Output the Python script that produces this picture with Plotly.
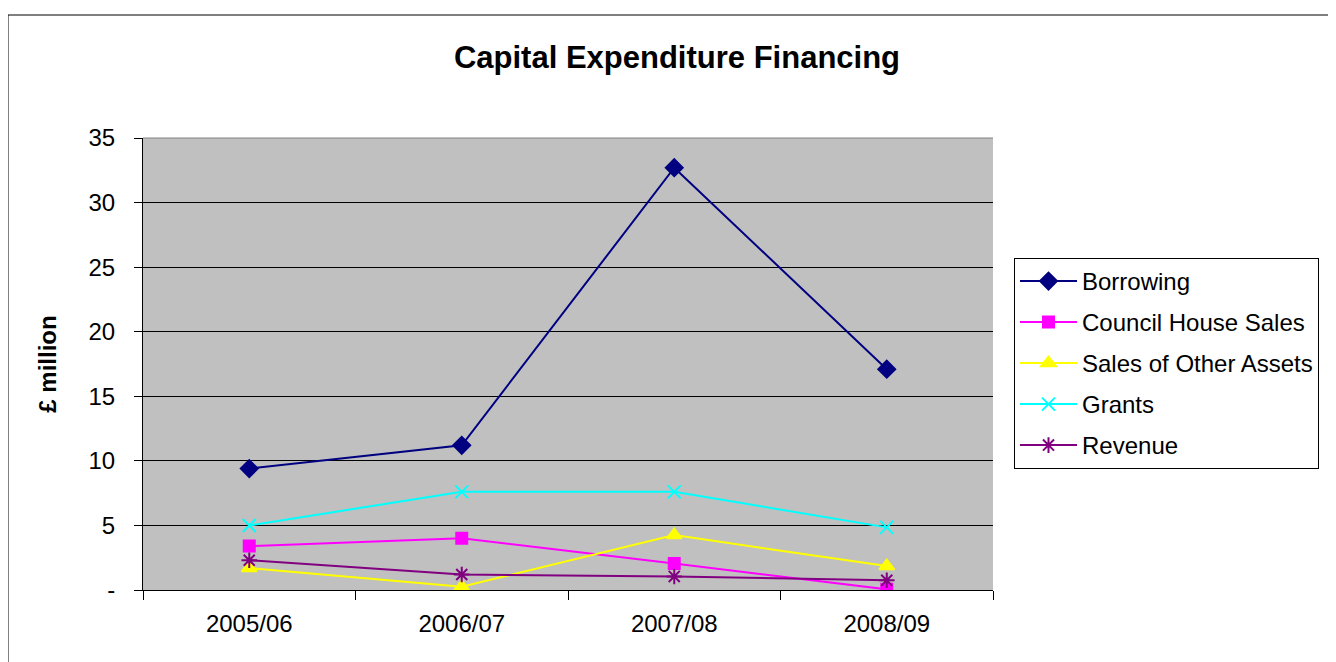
import plotly.graph_objects as go

categories = ["2005/06", "2006/07", "2007/08", "2008/09"]
borrowing = [9.4, 11.2, 32.7, 17.1]
council_house_sales = [3.4, 4.0, 2.05, 0.05]
sales_other_assets = [1.7, 0.25, 4.25, 1.85]
grants = [5.0, 7.6, 7.6, 4.85]
revenue = [2.3, 1.2, 1.05, 0.75]

y_tickvals = [0, 5, 10, 15, 20, 25, 30, 35]
y_ticktext = ["-", "5", "10", "15", "20", "25", "30", "35"]

series = [
    ("Borrowing", borrowing, "#000080", "diamond", 13),
    ("Council House Sales", council_house_sales, "#FF00FF", "square", 11),
    ("Sales of Other Assets", sales_other_assets, "#FFFF00", "triangle-up", 13),
    ("Grants", grants, "#00FFFF", "x-thin-open", 13),
    ("Revenue", revenue, "#800080", "asterisk-open", 13),
]

fig = go.Figure()
for name, vals, color, sym, size in series:
    fig.add_trace(go.Scatter(
        x=categories, y=vals, name=name, mode="lines+markers",
        legendgroup=name,
        line=dict(color=color, width=2),
        marker=dict(symbol=sym, size=size, color=color,
                    line=dict(color=color, width=2)),
    ))

OFF = 8  # page body margin
L, R, T, B = 143, 993, 138, 590   # target page pixel positions
W, H = 1336 - OFF, 662 - OFF
pw, ph = R - L, B - T

def px(x):
    return (x - L) / pw

def py(y):
    return (B - y) / ph

fig.update_layout(
    width=W, height=H,
    margin=dict(l=L - OFF, r=1336 - R, t=T - OFF, b=662 - B, pad=0),
    paper_bgcolor="white",
    plot_bgcolor="#C0C0C0",
    font=dict(family="Liberation Sans, Arial, sans-serif", size=24, color="black"),
    title=dict(text="<b>Capital Expenditure Financing</b>",
               font=dict(size=31, color="black"),
               x=(677 - OFF) / W, xref="container", xanchor="center",
               y=1 - (57 - OFF) / H, yref="container", yanchor="middle"),
    showlegend=True,
    legend=dict(
        x=px(1014), y=py(258), xanchor="left", yanchor="top",
        bordercolor="black", borderwidth=1, bgcolor="white",
        font=dict(size=24), tracegroupgap=6.8, itemwidth=57,
        traceorder="grouped",
    ),
    xaxis=dict(
        type="category", tickson="boundaries", range=[-0.5, 3.5],
        ticks="outside", ticklen=9, tickcolor="black", tickwidth=1,
        showline=True, linecolor="black", linewidth=1,
        showgrid=False, zeroline=False,
        tickfont=dict(size=24), ticklabelstandoff=12,
    ),
    yaxis=dict(
        range=[0, 35], tickvals=y_tickvals, ticktext=y_ticktext,
        ticks="outside", ticklen=8, tickcolor="black", tickwidth=1,
        showline=True, linecolor="black", linewidth=1,
        showgrid=True, gridcolor="black", gridwidth=1,
        zeroline=False, tickfont=dict(size=24), ticklabelstandoff=14,
        title=dict(text="<b>£ million</b>", font=dict(size=24), standoff=25),
    ),
    shapes=[
        dict(type="rect", xref="paper", yref="paper",
             x0=px(8), x1=px(1345), y0=py(672), y1=py(15),
             line=dict(color="black", width=1), fillcolor="rgba(0,0,0,0)",
             layer="below"),
        dict(type="line", xref="paper", yref="paper",
             x0=0, x1=1, y0=1, y1=1,
             line=dict(color="#808080", width=1)),
    ],
)

fig.write_html("out.html")
